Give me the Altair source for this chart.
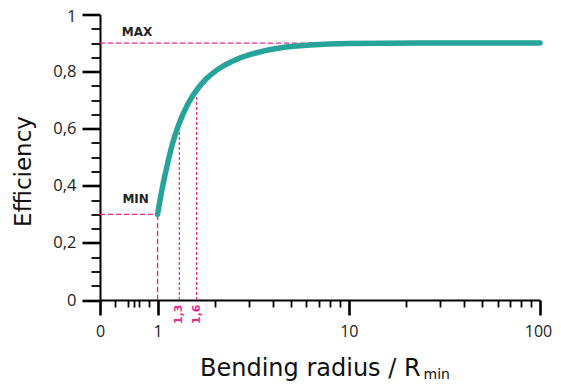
import altair as alt
import pandas as pd

# ---- data ----
radius = [1, 1.05, 1.1, 1.2, 1.3, 1.45, 1.6, 1.8, 2.05, 2.6, 3.3, 4.6, 6.3, 10, 30, 100]
efficiency = [0.30, 0.38, 0.445, 0.55, 0.62, 0.69, 0.735, 0.775, 0.806, 0.843, 0.866, 0.885, 0.893, 0.898, 0.9, 0.9]

x_ticks = [0.5, 0.6, 0.7, 0.75, 0.8, 0.9, 1, 2, 3, 4, 5, 6, 7, 8, 9,
           10, 20, 30, 40, 50, 60, 70, 80, 90, 100]
x_major = [0.5, 1, 10, 100]
x_major_labels = ["0", "1", "10", "100"]
y_ticks = [0, 0.05, 0.1, 0.15, 0.2, 0.25, 0.3, 0.35, 0.4, 0.45, 0.5,
           0.55, 0.6, 0.65, 0.7, 0.75, 0.8, 0.85, 0.9, 0.95, 1]

# guide lines
h_y = [0.9, 0.3]
h_x0 = [0.5, 0.5]
h_x1 = [6.5, 1.0]
v_x = [1.0, 1.3, 1.6]
v_y1 = [0.3, 0.62, 0.735]
v_style = ["long", "short", "short"]

ann_text = ["MAX", "MIN"]
ann_x = [0.65, 0.655]
ann_y = [0.94, 0.354]

mark_text = ["1,3", "1,6"]
mark_x = [1.3, 1.6]
mark_y = [-0.05, -0.05]

TEAL = "#26a49a"
MAGENTA = "#e8288e"

curve_df = pd.DataFrame({"r": radius, "e": efficiency})
h_df = pd.DataFrame({"y": h_y, "x0": h_x0, "x1": h_x1})
v_df = pd.DataFrame({"x": v_x, "y0": [0] * len(v_x), "y1": v_y1, "style": v_style})
ann_df = pd.DataFrame({"t": ann_text, "x": ann_x, "y": ann_y})
mk_df = pd.DataFrame({"t": mark_text, "x": mark_x, "y": mark_y})

xscale = alt.Scale(type="log", domain=[0.5, 100])
yscale = alt.Scale(domain=[0, 1])

major_test_x = "indexof([" + ",".join(str(v) for v in x_major) + "], datum.value) >= 0"
label_expr_x = " : ".join(
    f"datum.value == {v} ? '{l}'" for v, l in zip(x_major, x_major_labels)
) + " : ''"

x_axis = alt.Axis(
    values=x_ticks, labelExpr=label_expr_x, title=None, grid=False,
    labelFont="Open Sans", labelFontSize=16, labelColor="#222",
    labelFlush=False, labelOverlap=False, labelPadding=8,
    labelOffset={"condition": {"test": "datum.value == 100", "value": -2}, "value": 0},
    tickColor="black", domainColor="black", domainWidth=2,
    tickSize={"condition": {"test": major_test_x, "value": 15}, "value": 7},
    tickWidth={"condition": {"test": major_test_x, "value": 2.6}, "value": 1.8},
)
major_test_y = "round(datum.value*100) % 20 == 0"
y_axis = alt.Axis(
    values=y_ticks,
    labelExpr="round(datum.value*100) % 20 == 0 ? replace(format(datum.value, '.1~f'), '.', ',') : ''",
    title=None, grid=False,
    labelFont="Open Sans", labelFontSize=16.5, labelColor="#222",
    labelFlush=False, labelOverlap=False, labelPadding=6,
    labelOffset={"condition": {"test": "datum.value == 1", "value": 2}, "value": 0},
    tickColor="black", domainColor="black", domainWidth=2,
    tickSize={"condition": {"test": major_test_y, "value": 18}, "value": 9},
    tickWidth={"condition": {"test": major_test_y, "value": 2.6}, "value": 1.8},
)


def X(field):
    return alt.X(field, type="quantitative", scale=xscale, axis=x_axis)


def Y(field):
    return alt.Y(field, type="quantitative", scale=yscale, axis=y_axis)


hlines = alt.Chart(h_df).mark_rule(color=MAGENTA, strokeWidth=1.3, strokeDash=[5, 3]).encode(
    x=X("x0"), x2="x1:Q", y=Y("y"),
)
vlong = alt.Chart(v_df).transform_filter("datum.style == 'long'").mark_rule(
    color=MAGENTA, strokeWidth=1.3, strokeDash=[5, 3]).encode(
    x=X("x"), y=Y("y0"), y2="y1:Q",
)
vshort = alt.Chart(v_df).transform_filter("datum.style == 'short'").mark_rule(
    color=MAGENTA, strokeWidth=1.2, strokeDash=[3, 2]).encode(
    x=X("x"), y=Y("y0"), y2="y1:Q",
)
curve = alt.Chart(curve_df).mark_line(
    color=TEAL, strokeWidth=5.5, interpolate="monotone", strokeCap="round", clip=False
).encode(x=X("r"), y=Y("e"))
ann = alt.Chart(ann_df).mark_text(
    font="DejaVu Sans", fontWeight="bold", fontSize=12, color="#222",
    align="left", baseline="middle"
).encode(x=X("x"), y=Y("y"), text="t:N")
mk = alt.Chart(mk_df).mark_text(
    font="DejaVu Sans", fontWeight="bold", fontSize=11, color=MAGENTA,
    align="center", baseline="middle", angle=270
).encode(x=X("x"), y=Y("y"), text="t:N")

title_df = pd.DataFrame({"t": ["Efficiency"]})
ytitle = alt.Chart(title_df).mark_text(
    font="DejaVu Sans", fontSize=23, color="#111", angle=270,
    align="center", baseline="middle"
).encode(x=alt.value(-76), y=alt.value(157), text="t:N")

xt_df = pd.DataFrame({"t": ["Bending radius / R"]})
xtitle = alt.Chart(xt_df).mark_text(
    font="DejaVu Sans", fontSize=24, color="#111", align="left", baseline="alphabetic"
).encode(x=alt.value(100), y=alt.value(361), text="t:N")
sub_df = pd.DataFrame({"t": ["min"]})
xsub = alt.Chart(sub_df).mark_text(
    font="DejaVu Sans", fontSize=14, color="#111", align="left", baseline="alphabetic"
).encode(x=alt.value(323.5), y=alt.value(364.5), text="t:N")

chart = alt.layer(hlines, vlong, vshort, curve, ann, mk, ytitle, xtitle, xsub).properties(
    width=440, height=285.5,
    autosize=alt.AutoSizeParams(type="none"),
    padding={"left": 92, "top": 6.5, "right": 13, "bottom": 85},
).configure(background="white").configure_view(stroke=None)

chart.save("out.html", embed_options={"renderer": "svg", "actions": False})
